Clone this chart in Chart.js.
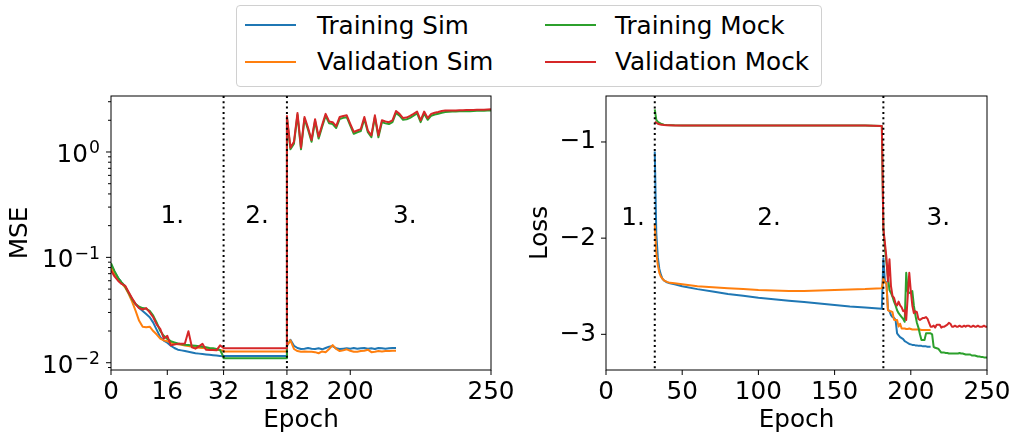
<!DOCTYPE html>
<html>
<head>
<meta charset="utf-8">
<script src="https://cdn.jsdelivr.net/npm/chart.js@4/dist/chart.umd.min.js"></script>
<style>
body { margin: 0; background: #fff; }
#wrap { position: relative; width: 1014px; height: 436px; font-family: "DejaVu Sans", sans-serif; }
canvas { position: absolute; left: 0; top: 0; }
#legend { position: absolute; left: 236px; top: 5px; width: 586px; height: 82px; box-sizing: border-box; border: 1px solid #d0d0d0; border-radius: 4px; background: #fff; }
.handle { position: absolute; width: 51px; height: 2px; }
.lbl { position: absolute; font-size: 24.7px; line-height: 30px; white-space: nowrap; color: #000; }
</style>
</head>
<body>
<div id="wrap">
  <canvas id="mseChart" width="1014" height="436"></canvas>
  <canvas id="lossChart" width="1014" height="436"></canvas>
  <div id="legend"></div>
</div>
<script>
const seriesNames = ["Training Sim", "Validation Sim", "Training Mock", "Validation Mock"]
const seriesColors = ["#1f77b4", "#ff7f0e", "#2ca02c", "#d62728"]

// left panel: MSE, x axis is squeezed (phase 2 shown short)
const leftTickPos = [0, 16, 32, 50, 68, 108]
const leftTickLabels = ["0", "16", "32", "182", "200", "250"]
const leftPhaseStart = [0, 32, 50]
const leftYMajor = [0.01, 0.1, 1]
const leftYBase = "10"
const leftYExp = ["\u22122", "\u22121", "0"]
const leftYMinor = [0.009, 0.02, 0.03, 0.04, 0.05, 0.06, 0.07, 0.08, 0.09, 0.2, 0.3, 0.4, 0.5, 0.6, 0.7, 0.8, 0.9, 2, 3]

// phase 1, epochs 0..32
const mseP1Blue = [0.085, 0.073, 0.064, 0.058, 0.053, 0.046, 0.040, 0.036, 0.033, 0.031, 0.029, 0.027, 0.024, 0.0205, 0.0175, 0.0162, 0.0155, 0.0145, 0.0138, 0.0133, 0.0131, 0.0129, 0.0127, 0.0125, 0.0123, 0.0122, 0.0121, 0.012, 0.0119, 0.0118, 0.0117, 0.0116, 0.0115]
const mseP1Orange = [0.080, 0.070, 0.062, 0.057, 0.052, 0.045, 0.038, 0.031, 0.025, 0.022, 0.0217, 0.022, 0.020, 0.0185, 0.0169, 0.0163, 0.016, 0.0155, 0.0151, 0.015, 0.0148, 0.0146, 0.0144, 0.0142, 0.014, 0.0139, 0.0138, 0.0137, 0.0136, 0.0135, 0.0133, 0.0132, 0.013]
const mseP1Green = [0.088, 0.074, 0.064, 0.058, 0.053, 0.046, 0.040, 0.036, 0.034, 0.033, 0.0325, 0.031, 0.028, 0.024, 0.020, 0.018, 0.0168, 0.016, 0.0156, 0.0152, 0.0150, 0.0148, 0.0147, 0.0146, 0.0145, 0.0143, 0.0142, 0.0140, 0.0138, 0.0137, 0.0135, 0.0132, 0.0113]
const mseP1Red = [0.075, 0.066, 0.060, 0.056, 0.054, 0.047, 0.041, 0.036, 0.033, 0.032, 0.033, 0.030, 0.027, 0.023, 0.021, 0.017, 0.018, 0.0146, 0.0149, 0.0151, 0.0151, 0.0152, 0.0199, 0.014, 0.0136, 0.0143, 0.0151, 0.0133, 0.0132, 0.0132, 0.0131, 0.0146, 0.0138]
// phase 2 plateau (blue, orange, green, red)
const msePlateau = [0.0116, 0.0128, 0.011, 0.0137]
// phase 3, from epoch 182
const mseP3Blue = [0.0145, 0.0165, 0.0145, 0.0138, 0.0135, 0.0136, 0.0138, 0.0136, 0.0135, 0.0137, 0.0134, 0.0138, 0.0142, 0.0144, 0.0137, 0.0135, 0.0136, 0.0137, 0.0136, 0.0138, 0.0136, 0.0137, 0.0138, 0.0136, 0.0137, 0.0135, 0.0138, 0.0137, 0.0136, 0.0137, 0.0138, 0.0138]
const mseP3Orange = [0.0145, 0.0163, 0.0135, 0.0129, 0.0127, 0.0128, 0.0127, 0.0127, 0.0126, 0.0123, 0.0128, 0.0126, 0.0135, 0.0147, 0.0135, 0.0129, 0.0131, 0.0134, 0.0130, 0.0127, 0.0127, 0.0129, 0.0130, 0.0133, 0.0126, 0.0127, 0.0129, 0.0128, 0.0129, 0.0129, 0.0130, 0.0130]
const mseP3Green = [2.1, 1.06, 1.2, 2.25, 1.06, 2.07, 1.63, 1.25, 1.97, 1.34, 1.73, 2.21, 1.87, 1.84, 1.69, 2.06, 2.11, 2.14, 1.78, 1.49, 1.54, 1.58, 2.06, 1.54, 1.38, 2.14, 1.38, 1.92, 1.87, 1.84, 1.92, 2.35, 2.21, 2.02, 2.04, 2.11, 2.21, 2.32, 1.92, 2.32, 2.02, 2.21, 2.27, 2.31, 2.36, 2.4, 2.41, 2.42, 2.42, 2.43, 2.43, 2.44, 2.44, 2.45, 2.46, 2.46, 2.46, 2.47, 2.48]
const mseP3Red = [2.2, 1.1, 1.25, 2.35, 1.1, 2.15, 1.7, 1.3, 2.05, 1.4, 1.8, 2.3, 1.95, 1.92, 1.76, 2.15, 2.2, 2.23, 1.85, 1.55, 1.6, 1.65, 2.15, 1.6, 1.44, 2.23, 1.44, 2.0, 1.95, 1.92, 2.0, 2.45, 2.3, 2.1, 2.12, 2.2, 2.3, 2.42, 2.0, 2.42, 2.1, 2.3, 2.36, 2.4, 2.45, 2.48, 2.48, 2.48, 2.48, 2.49, 2.49, 2.5, 2.5, 2.51, 2.52, 2.52, 2.52, 2.53, 2.54]

// right panel: Loss
const rightXTicks = [0, 50, 100, 150, 200, 250]
const rightYTicks = [-3, -2, -1]
const rightBounds = [32, 182]
const lossP2Epochs = [32, 33, 34, 35, 36, 37, 38, 40, 42, 45, 50, 60, 70, 80, 90, 100, 110, 120, 130, 140, 150, 160, 170, 181]
const lossP2Blue = [-1.10, -1.95, -2.2, -2.32, -2.38, -2.42, -2.44, -2.46, -2.47, -2.48, -2.50, -2.53, -2.555, -2.58, -2.60, -2.62, -2.635, -2.65, -2.665, -2.68, -2.695, -2.71, -2.72, -2.735]
const lossP2Orange = [-1.86, -2.15, -2.28, -2.36, -2.40, -2.42, -2.44, -2.455, -2.465, -2.47, -2.48, -2.50, -2.51, -2.52, -2.53, -2.54, -2.545, -2.55, -2.55, -2.545, -2.54, -2.535, -2.53, -2.52]
const lossP2Green = [-0.66, -0.77, -0.79, -0.80, -0.81, -0.815, -0.82, -0.823, -0.825, -0.827, -0.828, -0.83, -0.83, -0.83, -0.83, -0.83, -0.83, -0.83, -0.83, -0.83, -0.83, -0.83, -0.83, -0.834]
const lossP2Red = [-0.79, -0.80, -0.81, -0.815, -0.82, -0.822, -0.824, -0.826, -0.827, -0.828, -0.83, -0.83, -0.83, -0.83, -0.83, -0.83, -0.83, -0.83, -0.83, -0.83, -0.83, -0.83, -0.83, -0.834]
// phase 3, one value per epoch from 182
const lossP3Blue = [-2.21, -2.45, -2.46, -2.74, -2.76, -2.80, -2.82, -2.83, -2.85, -2.99, -3.01, -3.03, -3.04, -3.05, -3.07, -3.08, -3.09, -3.10, -3.105, -3.11, -3.11, -3.115, -3.115, -3.12, -3.12, -3.12, -3.125, -3.125, -3.125, -3.13, -3.13, -3.13]
const lossP3Orange = [-2.42, -2.46, -2.47, -2.75, -2.76, -2.76, -2.77, -2.85, -2.85, -2.85, -2.92, -2.89, -2.94, -2.94, -2.94, -2.945, -2.945, -2.94, -2.945, -2.95, -2.95, -2.95, -2.95, -2.95, -2.95, -2.955, -2.955, -2.955, -2.955, -2.955, -2.955, -2.955]
const lossP3Green = [-1.9, -2.1, -2.25, -2.4, -2.54, -2.57, -2.61, -2.66, -2.7, -2.75, -2.78, -2.8, -2.82, -2.84, -2.87, -2.36, -2.56, -2.57, -2.56, -2.55, -2.7, -2.8, -2.88, -2.93, -3.0, -3.06, -3.06, -3.06, -2.99, -2.99, -2.99, -2.99, -3.0, -3.13, -3.14, -3.145, -3.15, -3.17, -3.19, -3.19, -3.19, -3.195, -3.195, -3.2, -3.2, -3.2, -3.2, -3.2, -3.2, -3.2, -3.195, -3.2, -3.2, -3.205, -3.21, -3.21, -3.21, -3.21, -3.22, -3.22, -3.22, -3.225, -3.23, -3.23, -3.235, -3.235, -3.24, -3.24, -3.24]
const lossP3Red = [-1.9, -2.05, -2.2, -2.45, -2.22, -2.5, -2.6, -2.62, -2.68, -2.7, -2.66, -2.7, -2.72, -2.76, -2.75, -2.85, -2.6, -2.36, -2.55, -2.7, -2.78, -2.76, -2.77, -2.84, -2.85, -2.84, -2.83, -2.83, -2.82, -2.84, -2.88, -2.92, -2.92, -2.91, -2.93, -2.9, -2.9, -2.9, -2.93, -2.92, -2.92, -2.91, -2.9, -2.88, -2.89, -2.92, -2.92, -2.91, -2.92, -2.92, -2.91, -2.92, -2.92, -2.91, -2.92, -2.91, -2.91, -2.92, -2.92, -2.91, -2.92, -2.92, -2.91, -2.92, -2.92, -2.92, -2.91, -2.92, -2.92]

const phaseTexts = ["1.", "2.", "3."]
const leftTextX = [17.4, 41.5, 83.5]
const rightTextX = [17.7, 107, 218]

const FS = 24.7
Chart.defaults.font.family = "'DejaVu Sans', sans-serif"
Chart.defaults.font.size = FS
Chart.defaults.color = "#000"

const FONT = FS + "px 'DejaVu Sans', sans-serif"
const SUP_FONT = (FS * 0.7).toFixed(1) + "px 'DejaVu Sans', sans-serif"

const legendBox = document.querySelector("#legend")
seriesNames.forEach((name, i) => {
    const col = Math.floor(i / 2)
    const row = i % 2
    const h = document.createElement("div")
    h.className = "handle"
    h.style.background = seriesColors[i]
    h.style.left = (8 + col * 299.6) + "px"
    h.style.top = (18 + row * 36.7) + "px"
    legendBox.appendChild(h)
    const t = document.createElement("div")
    t.className = "lbl"
    t.textContent = name
    t.style.left = (80 + col * 298) + "px"
    t.style.top = (4.8 + row * 36.4) + "px"
    legendBox.appendChild(t)
})

const leftSeries = (p1, plateau, p3) => [
    ...p1.map((y, i) => ({ x: leftPhaseStart[0] + i, y })),
    { x: leftPhaseStart[1], y: plateau },
    { x: leftPhaseStart[2], y: plateau },
    ...p3.map((y, i) => ({ x: leftPhaseStart[2] + i, y }))
]

const rightSeries = (p2, p3) => [
    ...p2.map((y, i) => ({ x: lossP2Epochs[i], y })),
    ...p3.map((y, i) => ({ x: rightBounds[1] + i, y }))
]

const makeDataset = (i, data) => ({
    label: seriesNames[i],
    data,
    borderColor: seriesColors[i],
    borderWidth: 2,
    pointRadius: 0,
    tension: 0,
    fill: false,
    borderJoinStyle: "round",
    order: 3 - i
})

// dotted phase lines, phase numbers, box and tick marks
const decorPlugin = {
    id: "decor",
    afterDatasetsDraw(chart, args, opts) {
        const { ctx, chartArea: a, scales } = chart
        ctx.save()
        ctx.strokeStyle = "#000"
        ctx.lineWidth = 2
        ctx.setLineDash([2, 3.3])
        opts.bounds.forEach(b => {
            const px = scales.x.getPixelForValue(b)
            ctx.beginPath()
            ctx.moveTo(px, a.top)
            ctx.lineTo(px, a.bottom)
            ctx.stroke()
        })
        ctx.setLineDash([])
        ctx.fillStyle = "#000"
        ctx.font = FONT
        ctx.textAlign = "center"
        ctx.textBaseline = "middle"
        opts.textX.forEach((tx, i) => {
            ctx.fillText(phaseTexts[i], scales.x.getPixelForValue(tx), scales.y.getPixelForValue(opts.textY))
        })
        ctx.restore()
    },
    afterDraw(chart, args, opts) {
        const { ctx, chartArea: a, scales } = chart
        ctx.save()
        ctx.strokeStyle = "#000"
        ctx.lineWidth = 1
        ctx.strokeRect(a.left, a.top, a.right - a.left, a.bottom - a.top)
        Object.values(scales).forEach(scale => {
            scale.ticks.forEach(t => {
                const p = scale.getPixelForValue(t.value)
                const len = t.minor ? 3 : 5
                ctx.beginPath()
                if (scale.isHorizontal()) {
                    ctx.moveTo(p, a.bottom)
                    ctx.lineTo(p, a.bottom + len)
                } else {
                    ctx.moveTo(a.left, p)
                    ctx.lineTo(a.left - len, p)
                }
                ctx.stroke()
            })
        })
        // power-of-ten labels with a raised exponent
        if (opts.powers) {
            ctx.fillStyle = "#000"
            ctx.textBaseline = "alphabetic"
            ctx.textAlign = "left"
            leftYMajor.forEach((v, i) => {
                const py = scales.y.getPixelForValue(v)
                ctx.font = SUP_FONT
                const ew = ctx.measureText(leftYExp[i]).width
                ctx.font = FONT
                const bw = ctx.measureText(leftYBase).width
                const right = a.left - 11
                const base = py + 10
                ctx.fillText(leftYBase, right - ew - bw - 1, base)
                ctx.font = SUP_FONT
                ctx.fillText(leftYExp[i], right - ew, base - 8.5)
            })
        }
        ctx.restore()
    }
}

const xAxisBase = (title, pad) => ({
    type: "linear",
    grid: { display: false, drawTicks: true, tickLength: 5 },
    border: { display: false },
    title: { display: true, text: title, padding: { top: 0, bottom: pad } },
    afterFit: scale => { scale.height = 66 }
})

new Chart(document.querySelector("#mseChart"), {
    type: "line",
    data: {
        datasets: [
            makeDataset(0, leftSeries(mseP1Blue, msePlateau[0], mseP3Blue)),
            makeDataset(1, leftSeries(mseP1Orange, msePlateau[1], mseP3Orange)),
            makeDataset(2, leftSeries(mseP1Green, msePlateau[2], mseP3Green)),
            makeDataset(3, leftSeries(mseP1Red, msePlateau[3], mseP3Red))
        ]
    },
    options: {
        responsive: false,
        animation: false,
        layout: { padding: { left: 0, right: 523, top: 96, bottom: 0 } },
        plugins: {
            legend: { display: false },
            tooltip: { enabled: false },
            decor: { bounds: [leftPhaseStart[1], leftPhaseStart[2]], textX: leftTextX, textY: 0.243, powers: true }
        },
        scales: {
            x: {
                ...xAxisBase("Epoch", 1),
                min: 0,
                max: leftTickPos[leftTickPos.length - 1],
                afterBuildTicks: scale => { scale.ticks = leftTickPos.map(v => ({ value: v })) },
                ticks: {
                    padding: 3, autoSkip: false, maxRotation: 0,
                    callback: (v) => leftTickLabels[leftTickPos.indexOf(v)]
                }
            },
            y: {
                type: "logarithmic",
                min: 0.00853,
                max: 3.4,
                grid: { display: false, drawTicks: true, tickLength: 5 },
                border: { display: false },
                afterBuildTicks: scale => {
                    scale.ticks = [
                        ...leftYMinor.map(v => ({ value: v, minor: true })),
                        ...leftYMajor.map(v => ({ value: v, minor: false }))
                    ].sort((a, b) => a.value - b.value)
                },
                ticks: { padding: 5, autoSkip: false, callback: () => "" },
                title: { display: true, text: "MSE", padding: { top: 6, bottom: 0 } },
                afterFit: scale => { scale.width = 111 }
            }
        }
    },
    plugins: [decorPlugin]
})

new Chart(document.querySelector("#lossChart"), {
    type: "line",
    data: {
        datasets: [
            makeDataset(0, rightSeries(lossP2Blue, lossP3Blue)),
            makeDataset(1, rightSeries(lossP2Orange, lossP3Orange)),
            makeDataset(2, rightSeries(lossP2Green, lossP3Green)),
            makeDataset(3, rightSeries(lossP2Red, lossP3Red))
        ]
    },
    options: {
        responsive: false,
        animation: false,
        layout: { padding: { left: 526, right: 27, top: 96, bottom: 0 } },
        plugins: {
            legend: { display: false },
            tooltip: { enabled: false },
            decor: { bounds: rightBounds, textX: rightTextX, textY: -1.8, powers: false }
        },
        scales: {
            x: {
                ...xAxisBase("Epoch", 1),
                min: 0,
                max: 250,
                afterBuildTicks: scale => { scale.ticks = rightXTicks.map(v => ({ value: v })) },
                ticks: { padding: 3, autoSkip: false, maxRotation: 0, callback: v => String(v) }
            },
            y: {
                type: "linear",
                min: -3.371,
                max: -0.522,
                grid: { display: false, drawTicks: true, tickLength: 5 },
                border: { display: false },
                afterBuildTicks: scale => { scale.ticks = rightYTicks.map(v => ({ value: v })) },
                ticks: { padding: 5, autoSkip: false, callback: v => "\u2212" + Math.abs(v) },
                title: { display: true, text: "Loss", padding: { top: 0, bottom: 0 } },
                afterFit: scale => { scale.width = 80 }
            }
        }
    },
    plugins: [decorPlugin]
})
</script>
</body>
</html>
